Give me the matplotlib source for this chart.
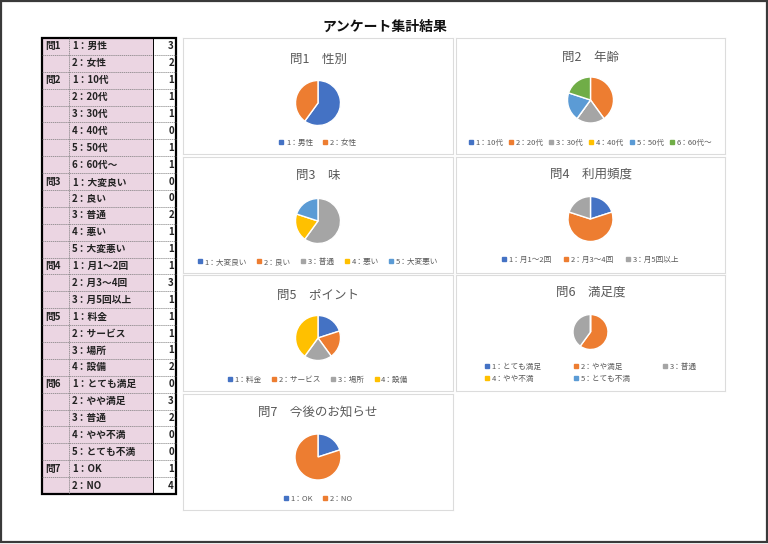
import matplotlib
matplotlib.use('Agg')
import matplotlib.pyplot as plt
from matplotlib.patches import Rectangle
from matplotlib.lines import Line2D

plt.rcParams['font.family'] = ['Noto Sans CJK JP', 'DejaVu Sans']

# --- data ---
title = 'アンケート集計結果'
q_labels = ['問1', '問2', '問3', '問4', '問5', '問6', '問7']
q_titles = ['問1　性別', '問2　年齢', '問3　味', '問4　利用頻度',
            '問5　ポイント', '問6　満足度', '問7　今後のお知らせ']
q_items = [
    ['1：男性', '2：女性'],
    ['1：10代', '2：20代', '3：30代', '4：40代', '5：50代', '6：60代～'],
    ['1：大変良い', '2：良い', '3：普通', '4：悪い', '5：大変悪い'],
    ['1：月1～2回', '2：月3～4回', '3：月5回以上'],
    ['1：料金', '2：サービス', '3：場所', '4：設備'],
    ['1：とても満足', '2：やや満足', '3：普通', '4：やや不満', '5：とても不満'],
    ['1：OK', '2：NO'],
]
# counts shown in the table
table_counts = [[3, 2], [1, 1, 1, 0, 1, 1], [0, 0, 2, 1, 1], [1, 3, 1],
                [1, 1, 1, 2], [0, 3, 2, 0, 0], [1, 4]]
# counts as drawn in the pie charts (q2/q3 differ from the table in the original)
chart_counts = [[3, 2], [0, 2, 1, 0, 1, 1], [0, 0, 3, 1, 1], [1, 3, 1],
                [1, 1, 1, 2], [0, 3, 2, 0, 0], [1, 4]]

palette = ['#4472C4', '#ED7D31', '#A5A5A5', '#FFC000', '#5B9BD5', '#70AD47']

# --- layout (pixels) ---
W, H = 768, 544
fig = plt.figure(figsize=(W / 100, H / 100), dpi=100)
fig.patch.set_facecolor('white')

bg = fig.add_axes([0, 0, 1, 1])
bg.set_xlim(0, W)
bg.set_ylim(H, 0)
bg.axis('off')

# outer frame
bg.add_patch(Rectangle((0.8, 0.8), W - 1.8, H - 3.2, fill=False, ec='#3a3a3a', lw=1.6))
bg.text(385, 27, title, ha='center', va='center', fontsize=10, fontweight='bold', color='#111111')

# table
tx0, tx1, tx2, tx3 = 42, 69, 153, 176
ty0, ty1 = 38, 494
n_rows = sum(len(it) for it in q_items)
row_h = (ty1 - ty0) / n_rows
pink = '#ebd5e2'

row = 0
for qi, items in enumerate(q_items):
    for ii, item in enumerate(items):
        y = ty0 + row * row_h
        bg.add_patch(Rectangle((tx0, y), tx2 - tx0, row_h, fc=pink, ec='none'))
        bg.add_patch(Rectangle((tx2, y), tx3 - tx2, row_h, fc='white', ec='none'))
        if ii == 0:
            bg.text(tx0 + 3, y + row_h / 2, q_labels[qi], ha='left', va='center',
                    fontsize=7, fontweight='bold', color='#222222')
        bg.text(tx1 + 3, y + row_h / 2, item, ha='left', va='center',
                fontsize=7, fontweight='bold', color='#222222')
        bg.text(tx3 - 2, y + row_h / 2, str(table_counts[qi][ii]), ha='right', va='center',
                fontsize=7, fontweight='bold', color='#222222')
        if row > 0:
            bg.plot([tx0, tx3], [y, y], color='#7a7a7a', lw=0.5, ls=(0, (2, 1)))
        row += 1

bg.plot([tx1, tx1], [ty0, ty1], color='#7a7a7a', lw=0.5, ls=(0, (2, 1)))
bg.plot([tx2, tx2], [ty0, ty1], color='black', lw=0.7)
bg.add_patch(Rectangle((tx0, ty0), tx3 - tx0, ty1 - ty0, fill=False, ec='black', lw=1.6))

# chart panels
col_x = [(183, 453), (456, 725)]
row_y = [38, 157, 275, 394]
panel_h = 116
panel_pos = [(0, 0), (1, 0), (0, 1), (1, 1), (0, 2), (1, 2), (0, 3)]
pie_off = [65, 62, 64, 62, 63, 57, 63]
pie_r = [22.5, 23, 22.5, 22.5, 22.5, 17.5, 23]
title_off = [21, 19, 18, 17, 20, 17, 18]
legend_off = [105, 105, 105, 103, 105, 98, 105]
legend_spacing = [1.3, 0.7, 1.3, 1.6, 1.3, 4.2, 1.3]

for qi in range(len(q_items)):
    c, r = panel_pos[qi]
    x0, x1 = col_x[c]
    y0 = row_y[r]
    w = x1 - x0
    h = panel_h
    ax = fig.add_axes([x0 / W, 1 - (y0 + h) / H, w / W, h / H])
    vals = chart_counts[qi]
    cols = palette[:len(vals)]
    ax.pie(vals, colors=cols, startangle=90, counterclock=False,
           center=(w / 2, h - pie_off[qi]), radius=pie_r[qi],
           wedgeprops=dict(edgecolor='white', linewidth=1), frame=True)
    ax.set_xlim(0, w)
    ax.set_ylim(0, h)
    ax.set_xticks([])
    ax.set_yticks([])
    for s in ax.spines.values():
        s.set_color('#dcdcdc')
        s.set_linewidth(0.8)
    ax.text(w / 2, h - title_off[qi], q_titles[qi], ha='center', va='center',
            fontsize=9, color='#595959')

    handles = [Line2D([], [], marker='s', ls='', color=cc, markersize=2.6) for cc in cols]
    labels = list(q_items[qi])
    ncol = len(labels)
    if qi == 5:
        # two-row legend, reorder so rows read left to right
        order = [0, 3, 1, 4, 2]
        handles = [handles[i] for i in order]
        labels = [labels[i] for i in order]
        ncol = 3
    ax.legend(handles, labels, loc='center', bbox_to_anchor=(0.5, 1 - legend_off[qi] / h),
              ncol=ncol, frameon=False, fontsize=5.5, handlelength=0.6,
              handletextpad=0.3, columnspacing=legend_spacing[qi], borderpad=0,
              labelspacing=0.5, labelcolor='#595959')

fig.savefig('out.png', dpi=100, facecolor='white')
